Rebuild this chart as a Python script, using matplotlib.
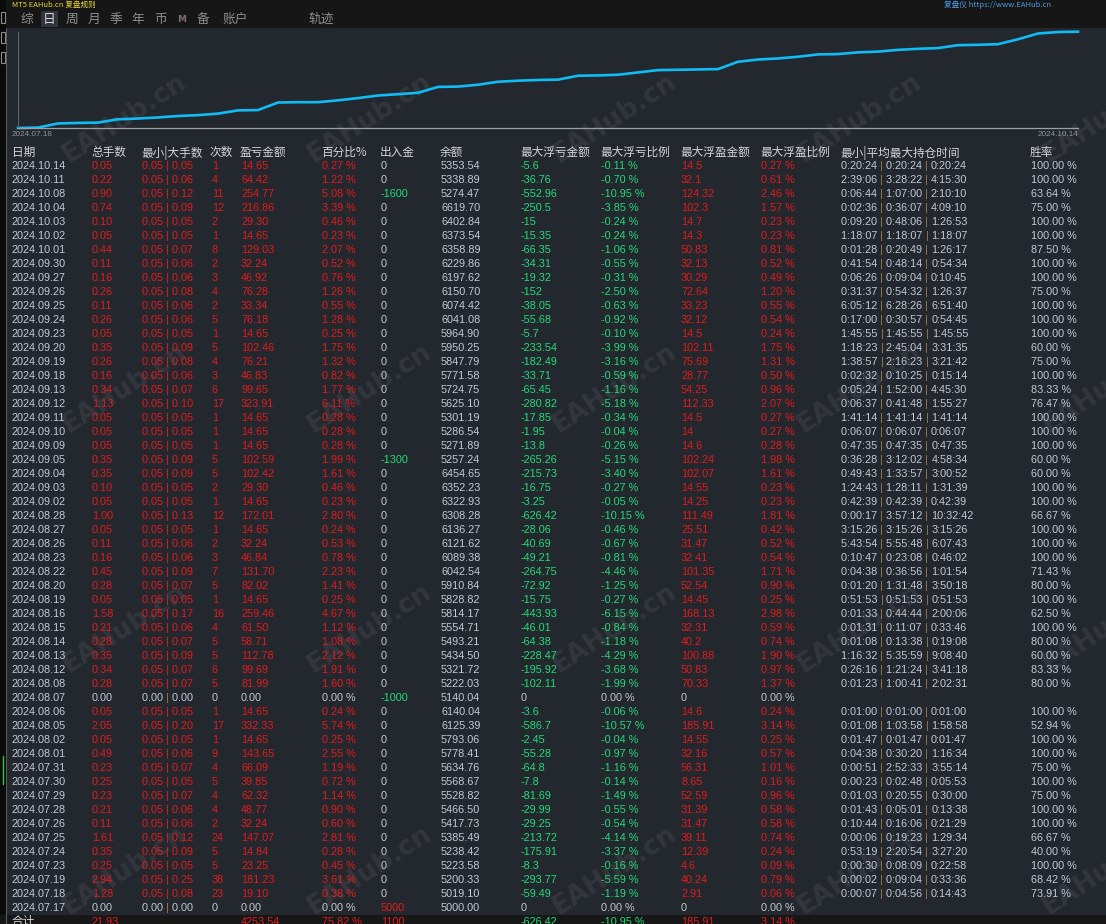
import numpy as np
import matplotlib
matplotlib.use("Agg")
import matplotlib.pyplot as plt
from matplotlib.patches import Rectangle
from matplotlib.font_manager import FontProperties

# ---------------- data (rows top -> bottom, newest first) ----------------
dates = ['2024.10.14','2024.10.11','2024.10.08','2024.10.04','2024.10.03','2024.10.02','2024.10.01',
         '2024.09.30','2024.09.27','2024.09.26','2024.09.25','2024.09.24','2024.09.23','2024.09.20',
         '2024.09.19','2024.09.18','2024.09.13','2024.09.12','2024.09.11','2024.09.10','2024.09.09',
         '2024.09.05','2024.09.04','2024.09.03','2024.09.02','2024.08.28','2024.08.27','2024.08.26',
         '2024.08.23','2024.08.22','2024.08.20','2024.08.19','2024.08.16','2024.08.15','2024.08.14',
         '2024.08.13','2024.08.12','2024.08.08','2024.08.07','2024.08.06','2024.08.05','2024.08.02',
         '2024.08.01','2024.07.31','2024.07.30','2024.07.29','2024.07.28','2024.07.26','2024.07.25',
         '2024.07.24','2024.07.23','2024.07.19','2024.07.18','2024.07.17']

total_lots = [0.05,0.22,0.90,0.74,0.10,0.05,0.44,0.11,0.16,0.26,0.11,0.26,0.05,0.35,0.26,0.16,0.34,1.13,
              0.05,0.05,0.05,0.35,0.35,0.10,0.05,1.00,0.05,0.11,0.16,0.45,0.28,0.05,1.58,0.21,0.28,0.35,
              0.34,0.28,0.00,0.05,2.05,0.05,0.49,0.23,0.25,0.23,0.21,0.11,1.61,0.35,0.25,2.94,1.28,0.00]

min_lots = [0.05]*38 + [0.00] + [0.05]*14 + [0.00]

max_lots = [0.05,0.06,0.12,0.09,0.05,0.05,0.07,0.06,0.06,0.08,0.06,0.06,0.05,0.09,0.08,0.06,0.07,0.10,
            0.05,0.05,0.05,0.09,0.09,0.05,0.05,0.13,0.05,0.06,0.06,0.09,0.07,0.05,0.17,0.06,0.07,0.09,
            0.07,0.07,0.00,0.05,0.20,0.05,0.06,0.07,0.05,0.07,0.06,0.06,0.12,0.09,0.05,0.25,0.08,0.00]

trades = [1,4,11,12,2,1,8,2,3,4,2,5,1,5,4,3,6,17,1,1,1,5,5,2,1,12,1,2,3,7,5,1,16,4,5,5,6,5,0,1,17,1,
          9,4,5,4,4,2,24,5,5,38,23,0]

profit = [14.65,64.42,254.77,216.86,29.30,14.65,129.03,32.24,46.92,76.28,33.34,76.18,14.65,102.46,
          76.21,46.83,99.65,323.91,14.65,14.65,14.65,102.59,102.42,29.30,14.65,172.01,14.65,32.24,
          46.84,131.70,82.02,14.65,259.46,61.50,58.71,112.78,99.69,81.99,0.00,14.65,332.33,14.65,
          143.65,66.09,39.85,62.32,48.77,32.24,147.07,14.84,23.25,181.23,19.10,0.00]

profit_pct = [0.27,1.22,5.08,3.39,0.46,0.23,2.07,0.52,0.76,1.26,0.55,1.28,0.25,1.75,1.32,0.82,1.77,6.11,
              0.28,0.28,0.28,1.99,1.61,0.46,0.23,2.80,0.24,0.53,0.78,2.23,1.41,0.25,4.67,1.12,1.08,2.12,
              1.91,1.60,0.00,0.24,5.74,0.25,2.55,1.19,0.72,1.14,0.90,0.60,2.81,0.28,0.45,3.61,0.38,0.00]

flows = [0,0,-1600,0,0,0,0,0,0,0,0,0,0,0,0,0,0,0,0,0,0,-1300,0,0,0,0,0,0,0,0,0,0,0,0,0,0,0,0,-1000,
         0,0,0,0,0,0,0,0,0,0,0,0,0,0,5000]

balance = [5353.54,5338.89,5274.47,6619.70,6402.84,6373.54,6358.89,6229.86,6197.62,6150.70,6074.42,
           6041.08,5964.90,5950.25,5847.79,5771.58,5724.75,5625.10,5301.19,5286.54,5271.89,5257.24,
           6454.65,6352.23,6322.93,6308.28,6136.27,6121.62,6089.38,6042.54,5910.84,5828.82,5814.17,
           5554.71,5493.21,5434.50,5321.72,5222.03,5140.04,6140.04,6125.39,5793.06,5778.41,5634.76,
           5568.67,5528.82,5466.50,5417.73,5385.49,5238.42,5223.58,5200.33,5019.10,5000.00]

float_loss = [-5.6,-36.76,-552.96,-250.5,-15,-15.35,-66.35,-34.31,-19.32,-152,-38.05,-55.68,-5.7,
              -233.54,-182.49,-33.71,-65.45,-280.82,-17.85,-1.95,-13.8,-265.26,-215.73,-16.75,-3.25,
              -626.42,-28.06,-40.69,-49.21,-264.75,-72.92,-15.75,-443.93,-46.01,-64.38,-228.47,-195.92,
              -102.11,0,-3.6,-586.7,-2.45,-55.28,-64.8,-7.8,-81.69,-29.99,-29.25,-213.72,-175.91,-8.3,
              -293.77,-59.49,0]

float_loss_pct = [-0.11,-0.70,-10.95,-3.85,-0.24,-0.24,-1.06,-0.55,-0.31,-2.50,-0.63,-0.92,-0.10,-3.99,
                  -3.16,-0.59,-1.16,-5.18,-0.34,-0.04,-0.26,-5.15,-3.40,-0.27,-0.05,-10.15,-0.46,-0.67,
                  -0.81,-4.46,-1.25,-0.27,-6.15,-0.84,-1.18,-4.29,-3.68,-1.99,0.00,-0.06,-10.57,-0.04,
                  -0.97,-1.16,-0.14,-1.49,-0.55,-0.54,-4.14,-3.37,-0.16,-5.59,-1.19,0.00]

float_profit = [14.5,32.1,124.32,102.3,14.7,14.3,50.83,32.13,30.29,72.64,33.23,32.12,14.5,102.11,75.69,
                28.77,54.25,112.33,14.5,14,14.6,102.24,102.07,14.55,14.25,111.49,25.51,31.47,32.41,
                101.35,52.54,14.45,168.13,32.31,40.2,100.88,50.83,70.33,0,14.6,185.91,14.55,32.16,56.31,
                8.65,52.59,31.39,31.47,39.11,12.39,4.6,40.24,2.91,0]

float_profit_pct = [0.27,0.61,2.46,1.57,0.23,0.23,0.81,0.52,0.49,1.20,0.55,0.54,0.24,1.75,1.31,0.50,
                    0.96,2.07,0.27,0.27,0.28,1.98,1.61,0.23,0.23,1.81,0.42,0.52,0.54,1.71,0.90,0.25,
                    2.98,0.59,0.74,1.90,0.97,1.37,0.00,0.24,3.14,0.25,0.57,1.01,0.16,0.96,0.58,0.58,
                    0.74,0.24,0.09,0.79,0.06,0.00]

hold_times = [
    ('0:20:24','0:20:24','0:20:24'), ('2:39:06','3:28:22','4:15:30'), ('0:06:44','1:07:00','2:10:10'),
    ('0:02:36','0:36:07','4:09:10'), ('0:09:20','0:48:06','1:26:53'), ('1:18:07','1:18:07','1:18:07'),
    ('0:01:28','0:20:49','1:26:17'), ('0:41:54','0:48:14','0:54:34'), ('0:06:26','0:09:04','0:10:45'),
    ('0:31:37','0:54:32','1:26:37'), ('6:05:12','6:28:26','6:51:40'), ('0:17:00','0:30:57','0:54:45'),
    ('1:45:55','1:45:55','1:45:55'), ('1:18:23','2:45:04','3:31:35'), ('1:38:57','2:16:23','3:21:42'),
    ('0:02:32','0:10:25','0:15:14'), ('0:05:24','1:52:00','4:45:30'), ('0:06:37','0:41:48','1:55:27'),
    ('1:41:14','1:41:14','1:41:14'), ('0:06:07','0:06:07','0:06:07'), ('0:47:35','0:47:35','0:47:35'),
    ('0:36:28','3:12:02','4:58:34'), ('0:49:43','1:33:57','3:00:52'), ('1:24:43','1:28:11','1:31:39'),
    ('0:42:39','0:42:39','0:42:39'), ('0:00:17','3:57:12','10:32:42'), ('3:15:26','3:15:26','3:15:26'),
    ('5:43:54','5:55:48','6:07:43'), ('0:10:47','0:23:08','0:46:02'), ('0:04:38','0:36:56','1:01:54'),
    ('0:01:20','1:31:48','3:50:18'), ('0:51:53','0:51:53','0:51:53'), ('0:01:33','0:44:44','2:00:06'),
    ('0:01:31','0:11:07','0:33:46'), ('0:01:08','0:13:38','0:19:08'), ('1:16:32','5:35:59','9:08:40'),
    ('0:26:16','1:21:24','3:41:18'), ('0:01:23','1:00:41','2:02:31'), None,
    ('0:01:00','0:01:00','0:01:00'), ('0:01:08','1:03:58','1:58:58'), ('0:01:47','0:01:47','0:01:47'),
    ('0:04:38','0:30:20','1:16:34'), ('0:00:51','2:52:33','3:55:14'), ('0:00:23','0:02:48','0:05:53'),
    ('0:01:03','0:20:55','0:30:00'), ('0:01:43','0:05:01','0:13:38'), ('0:10:44','0:16:06','0:21:29'),
    ('0:00:06','0:19:23','1:29:34'), ('0:53:19','2:20:54','3:27:20'), ('0:00:30','0:08:09','0:22:58'),
    ('0:00:02','0:09:04','0:33:36'), ('0:00:07','0:04:56','0:14:43'), None]

win_rate = [100,100,63.64,75,100,100,87.5,100,100,75,100,100,100,60,75,100,83.33,76.47,100,100,100,60,
            60,100,100,66.67,100,100,100,71.43,80,100,62.5,100,80,60,83.33,80,None,100,52.94,100,100,
            75,100,75,100,100,66.67,40,100,68.42,73.91,None]

headers = ['日期','总手数','最小|大手数','次数','盈亏金额','百分比%','出入金','余额','最大浮亏金额',
           '最大浮亏比例','最大浮盈金额','最大浮盈比例','最小|平均最大持仓时间','胜率']
totals = ['合计','21.93','','','4253.54','75.82 %','1100','','-626.42','-10.95 %','185.91','3.14 %','','']
tabs = ['综','日','周','月','季','年','币','M','备','账户','轨迹']
chart_labels = ['2024.07.18','2024.10.14']

# ---------------- style ----------------
W, H = 1106, 924
BG = '#23272e'
TOPBG = '#161616'
GRAY = '#c3cad4'
HEAD = '#d4d6d9'
RED = '#e51b1b'
GREEN = '#22dd77'
SEP = '#a07a48'
LINE = '#10bcf3'

NUM = FontProperties(family=['Liberation Sans', 'DejaVu Sans'], size=7.8)
CJK = FontProperties(family=['Noto Sans CJK SC', 'DejaVu Sans'], size=8.4)
TOPF = FontProperties(family=['Noto Sans CJK SC', 'DejaVu Sans'], size=5.5)

fig = plt.figure(figsize=(W / 100, H / 100), dpi=100)
fig.patch.set_facecolor(BG)
ax = fig.add_axes([0, 0, 1, 1])
ax.set_xlim(0, W)
ax.set_ylim(H, 0)
ax.axis('off')

def rect(x, y, w, h, fc, ec='none', lw=0, z=0):
    ax.add_patch(Rectangle((x, y), w, h, facecolor=fc, edgecolor=ec, linewidth=lw, zorder=z))

# top bars
rect(0, 0, W, 28, TOPBG)
rect(0, 0, 6, H, '#0a0a0a', z=1)
ax.plot([6, 6], [28, H], color='#55585c', lw=0.8, zorder=2)
for yy in (12, 32, 52):
    rect(0.5, yy, 4.5, 11, 'none', ec='#8a8a8a', lw=0.8, z=2)
ax.plot([2.5, 2.5], [756, 784], color='#22cc33', lw=1.0, zorder=2)
rect(0, H - 9, W, 9, '#171717', z=1)

ax.text(12, 0.6, 'MT5 EAHub.cn 复盘规则', fontproperties=TOPF, color='#e6d23c',
        va='top', ha='left', zorder=3)
ax.text(944, 0.6, '复盘仪 https://www.EAHub.cn', fontproperties=TOPF, color='#4d9be0',
        va='top', ha='left', zorder=3)

# tabs
tab_x = [27, 49, 72, 94, 116, 138, 160, 182, 203, 235, 321]
rect(41, 11, 17, 16, '#30353d', z=2)
for tb, x in zip(tabs, tab_x):
    if tb == 'M':
        ax.text(x, 19.5, tb, fontsize=6.5, fontweight='bold', color='#7d6f6f',
                ha='center', va='center', zorder=3)
    else:
        col = '#d8d8d8' if tb == '日' else '#8e8e8e'
        ax.text(x, 19.5, tb, fontproperties=FontProperties(family=['Noto Sans CJK SC', 'DejaVu Sans'], size=9.2),
                color=col, ha='center', va='center', zorder=3)

# watermarks
for cy in (118, 388, 628, 870):
    for cx in (125, 370, 615, 860, 1105):
        ax.text(cx, cy, 'EAHub.cn', fontsize=19, fontweight='bold', color='white', alpha=0.075,
                rotation=33, rotation_mode='anchor', ha='center', va='center', zorder=1.5,
                clip_on=True)

# chart labels
SMALL = FontProperties(family=['Liberation Sans', 'DejaVu Sans'], size=5.9)
ax.text(12, 135, chart_labels[0], fontproperties=SMALL, color='#8e949c', ha='left', va='center')
ax.text(1078, 135, chart_labels[1], fontproperties=SMALL, color='#8e949c', ha='right', va='center')

# table header
col_x = [12, 92, 142, 212, 241, 322, 381, 441, 521, 601, 681, 761, 841, 1031]
head_x = [12, 91, 141, 210, 240, 321, 380, 440, 520, 600, 680, 760, 840, 1030]
for h, x in zip(headers, head_x):
    ax.text(x, 152.5, h, fontproperties=CJK, color=HEAD, ha='left', va='center', zorder=3)

fig.canvas.draw()
renderer = fig.canvas.get_renderer()
def tw(s, fp=NUM):
    return renderer.get_text_width_height_descent(s, fp, ismath=False)[0]

def t(x, y, s, c):
    ax.text(x, y, s, fontproperties=NUM, color=c, ha='left', va='center', zorder=3)

y0, dy = 166, 14.0
for i in range(len(dates)):
    y = y0 + i * dy
    active = trades[i] > 0
    vc = RED if active else GRAY
    t(col_x[0], y, dates[i], GRAY)
    t(col_x[1], y, f"{total_lots[i]:.2f}", vc)
    a = f"{min_lots[i]:.2f} "
    t(col_x[2], y, a, vc)
    xs = col_x[2] + tw(a)
    t(xs, y, '|', vc if active else SEP)
    t(xs + tw('|'), y, f" {max_lots[i]:.2f}", vc)
    t(col_x[3], y, f"{trades[i]}", vc)
    t(col_x[4], y, f"{profit[i]:.2f}", vc)
    t(col_x[5], y, f"{profit_pct[i]:.2f} %", vc)
    f = flows[i]
    fcol = GREEN if f < 0 else (RED if f > 0 else GRAY)
    t(col_x[6], y, f"{f}", fcol)
    t(col_x[7], y, f"{balance[i]:.2f}", GRAY)
    t(col_x[8], y, f"{float_loss[i]:g}", GREEN if float_loss[i] < 0 else GRAY)
    t(col_x[9], y, f"{float_loss_pct[i]:.2f} %", GREEN if float_loss_pct[i] < 0 else GRAY)
    t(col_x[10], y, f"{float_profit[i]:g}", RED if float_profit[i] > 0 else GRAY)
    t(col_x[11], y, f"{float_profit_pct[i]:.2f} %", RED if float_profit_pct[i] > 0 else GRAY)
    ht = hold_times[i]
    if ht is not None:
        x = col_x[12]
        for k, part in enumerate(ht):
            s = part + (' ' if k < 2 else '')
            t(x, y, s, GRAY)
            x += tw(s)
            if k < 2:
                t(x, y, '|', SEP)
                x += tw('| ')
    if win_rate[i] is not None:
        t(col_x[13], y, f"{win_rate[i]:.2f} %", GRAY)

# totals row
yt = y0 + len(dates) * dy
for k, s in enumerate(totals):
    if not s:
        continue
    if k == 0:
        ax.text(col_x[0], yt, s, fontproperties=CJK, color=HEAD, ha='left', va='center', zorder=3)
    else:
        c = GREEN if s.startswith('-') else RED
        t(col_x[k], yt, s, c)

# equity curve (cumulative profit per trading day, oldest first)
chrono = np.array(profit[::-1])
cum = np.cumsum(chrono)
xi = np.arange(len(cum))
cax = fig.add_axes([18 / W, 1 - 128 / H, 1060 / W, (128 - 31.7) / H])
cax.patch.set_alpha(0)
cax.set_xlim(0, len(cum) - 1)
cax.set_ylim(0, cum.max())
for s in ('top', 'right'):
    cax.spines[s].set_visible(False)
cax.spines['left'].set_color('#5d636b')
cax.spines['left'].set_linewidth(0.8)
cax.spines['bottom'].set_color('#9aa0a8')
cax.spines['bottom'].set_linewidth(0.9)
cax.set_xticks([])
cax.set_yticks([])
cax.plot(xi, cum, color=LINE, lw=1.9, clip_on=False, solid_joinstyle='miter')

fig.savefig('out.png', dpi=100, facecolor=fig.get_facecolor())
